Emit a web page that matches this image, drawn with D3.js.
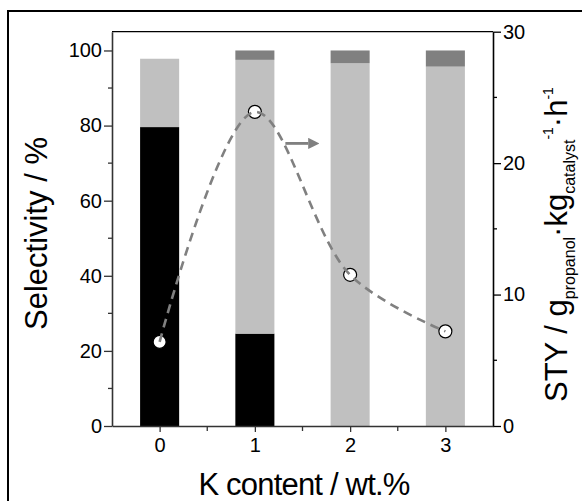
<!DOCTYPE html>
<html>
<head>
<meta charset="utf-8">
<script src="https://cdn.jsdelivr.net/npm/d3@7"></script>
<style>
  body { margin: 0; background: #fff; }
  svg { display: block; }
  text { font-family: "Liberation Sans", Arial, sans-serif; fill: #000; }
</style>
</head>
<body>
<svg id="chart" width="582" height="501"></svg>
<script>
// MARK: Data.

const kContent    = [0, 1, 2, 3]
const selBlack    = [79.6, 24.6, 0, 0]      // black part of each bar
const selLight    = [18.2, 72.9, 96.6, 95.7] // light grey part
const selDark     = [0, 2.5, 3.4, 4.3]      // dark grey cap
const sty         = [6.4, 23.9, 11.5, 7.2]  // right axis, circles
const leftTicks   = [0, 20, 40, 60, 80, 100]
const rightTicks  = [0, 10, 20, 30]

// MARK: Layout.

const PLOT = { left: 112, right: 493, top: 31.7, bottom: 426 }
const BAR_WIDTH = 0.41
const FONT = '"Liberation Sans", Arial, sans-serif'

const svg = d3.select('#chart')

const x  = d3.scaleLinear().domain([-0.5, 3.5]).range([PLOT.left, PLOT.right])
const yL = d3.scaleLinear().domain([0, 105]).range([PLOT.bottom, PLOT.top])
const yR = d3.scaleLinear().domain([0, 30]).range([PLOT.bottom, PLOT.top])

// outer frame of the figure
svg.append('rect')
  .attr('x', 8).attr('y', 11)
  .attr('width', 600).attr('height', 600)
  .attr('fill', 'none')
  .attr('stroke', '#000')
  .attr('stroke-width', 2)

// MARK: Stacked bars.

const rows = kContent.map((k, i) => ({ k, black: selBlack[i], light: selLight[i], dark: selDark[i] }))
const stack = d3.stack().keys(['black', 'light', 'dark'])(rows)
const colors = { black: '#000000', light: '#c0c0c0', dark: '#808080' }

svg.append('g').selectAll('g')
  .data(stack).enter()
  .append('g')
  .attr('fill', (s) => colors[s.key])
  .selectAll('rect')
  .data((s) => s.filter((d) => d[1] - d[0] > 0)).enter()
  .append('rect')
  .attr('x'     , (d) => x(d.data.k - BAR_WIDTH / 2))
  .attr('width' , x(BAR_WIDTH) - x(0))
  .attr('y'     , (d) => yL(d[1]))
  .attr('height', (d) => yL(d[0]) - yL(d[1]))

// MARK: Axes.

// plot box top line
svg.append('line')
  .attr('x1', PLOT.left).attr('x2', PLOT.right)
  .attr('y1', PLOT.top).attr('y2', PLOT.top)
  .attr('stroke', '#000').attr('stroke-width', 1.2)

const styleAxis = (g, color) => {
  g.select('.domain').attr('stroke', color).attr('stroke-width', 1.6)
  g.selectAll('.tick line').attr('stroke', color).attr('stroke-width', 1.3)
  g.selectAll('text').attr('font-family', FONT).attr('font-size', 20).attr('fill', '#000')
}

const leftAxis = svg.append('g')
  .attr('transform', `translate(${PLOT.left},0)`)
  .call(d3.axisLeft(yL).tickValues(leftTicks).tickSize(8).tickSizeOuter(0).tickPadding(2))
styleAxis(leftAxis, '#333')
leftAxis.selectAll('.minor')
  .data(d3.range(10, 100, 20)).enter()
  .append('line').attr('class', 'minor')
  .attr('x1', 0).attr('x2', -4)
  .attr('y1', (d) => yL(d)).attr('y2', (d) => yL(d))
  .attr('stroke', '#333').attr('stroke-width', 1.3)

const rightAxis = svg.append('g')
  .attr('transform', `translate(${PLOT.right},0)`)
  .call(d3.axisRight(yR).tickValues(rightTicks).tickSize(8).tickSizeOuter(0).tickPadding(2))
styleAxis(rightAxis, '#000')
rightAxis.selectAll('.minor')
  .data([5, 15, 25]).enter()
  .append('line').attr('class', 'minor')
  .attr('x1', 0).attr('x2', 4)
  .attr('y1', (d) => yR(d)).attr('y2', (d) => yR(d))
  .attr('stroke', '#000').attr('stroke-width', 1.3)

const bottomAxis = svg.append('g')
  .attr('transform', `translate(0,${PLOT.bottom})`)
  .call(d3.axisBottom(x).tickValues(kContent).tickFormat(d3.format('d')).tickSize(6).tickSizeOuter(0).tickPadding(6))
styleAxis(bottomAxis, '#333')
bottomAxis.selectAll('.minor')
  .data([0.5, 1.5, 2.5]).enter()
  .append('line').attr('class', 'minor')
  .attr('x1', (d) => x(d)).attr('x2', (d) => x(d))
  .attr('y1', 0).attr('y2', 5)
  .attr('stroke', '#333').attr('stroke-width', 1.3)

// MARK: STY curve and markers.

const pts = kContent.map((k, i) => [x(k), yR(sty[i])])

svg.append('g').selectAll('circle')
  .data(pts).enter()
  .append('circle')
  .attr('cx', (d) => d[0]).attr('cy', (d) => d[1])
  .attr('r', 6.5)
  .attr('fill', '#fff')
  .attr('stroke', '#000')
  .attr('stroke-width', 1.2)

svg.append('path')
  .attr('d', d3.line().curve(d3.curveCatmullRom.alpha(0.5))(pts))
  .attr('fill', 'none')
  .attr('stroke', '#808080')
  .attr('stroke-width', 2.6)
  .attr('stroke-dasharray', '9,6')

// arrow pointing to the right axis
svg.append('defs').append('marker')
  .attr('id', 'head')
  .attr('viewBox', '0 0 10 10')
  .attr('refX', 0).attr('refY', 5)
  .attr('markerWidth', 4).attr('markerHeight', 4)
  .attr('markerUnits', 'strokeWidth')
  .attr('orient', 'auto')
  .append('path')
  .attr('d', 'M0,0 L10,5 L0,10 z')
  .attr('fill', '#808080')

svg.append('line')
  .attr('x1', x(1.32)).attr('x2', x(1.56))
  .attr('y1', yR(21.5)).attr('y2', yR(21.5))
  .attr('stroke', '#808080')
  .attr('stroke-width', 2.8)
  .attr('marker-end', 'url(#head)')

// MARK: Axis titles.

svg.append('text')
  .attr('x', 304).attr('y', 495)
  .attr('text-anchor', 'middle')
  .attr('font-size', 31)
  .attr('letter-spacing', -0.8)
  .text('K content / wt.%')

svg.append('text')
  .attr('transform', 'translate(47,330) rotate(-90)')
  .attr('font-size', 31)
  .text('Selectivity / %')

const rt = svg.append('text')
  .attr('transform', 'translate(567,402) rotate(-90)')
  .attr('font-size', 31)
const parts = [
  { t: 'STY / g',  size: 31, dy: 0 },
  { t: 'propanol', size: 16, dy: 8 },
  { t: '·kg',      size: 31, dy: -8 },
  { t: 'catalyst', size: 16, dy: 8 },
  { t: '-1',       size: 14, dy: -22 },
  { t: '·h',       size: 31, dy: 14 },
  { t: '-1',       size: 14, dy: -14 },
]
rt.selectAll('tspan')
  .data(parts).enter()
  .append('tspan')
  .attr('font-size', (d) => d.size)
  .attr('dy', (d) => d.dy)
  .text((d) => d.t)
</script>
</body>
</html>
